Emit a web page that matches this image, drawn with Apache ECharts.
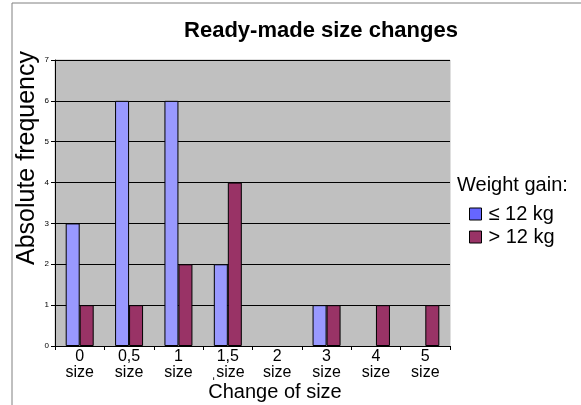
<!DOCTYPE html>
<html>
<head>
<meta charset="utf-8">
<script src="https://cdn.jsdelivr.net/npm/echarts@6/dist/echarts.min.js"></script>
<style>
  html, body { margin: 0; padding: 0; background: #fff; }
  #chart { width: 581px; height: 405px; }
</style>
</head>
<body>
<div id="chart"></div>
<script>
  const categories = ['0\nsize', '0,5\nsize', '1\nsize', '1,5\n\u02ccsize', '2\nsize', '3\nsize', '4\nsize', '5\nsize'];
  const lightGain = [3, 6, 6, 2, 0, 1, 0, 0];
  const heavyGain = [1, 1, 2, 4, 0, 1, 1, 1];
  const seriesNames = ['\u2264 12 kg', '> 12 kg'];

  const font = 'Arial, Liberation Sans, sans-serif';
  // empty categories draw nothing at all
  const hideZero = (arr) => arr.map((v) => (v === 0 ? '-' : v));

  const chart = echarts.init(document.getElementById('chart'));
  chart.setOption({
    animation: false,
    textStyle: { fontFamily: font },
    title: {
      text: 'Ready-made size changes',
      left: 316,
      top: 15,
      textAlign: 'center',
      textStyle: { fontSize: 22, fontWeight: 'bold', color: '#000' },
    },
    graphic: [
      {
        type: 'rect',
        shape: { x: 12, y: 3, width: 600, height: 450 },
        style: { fill: 'none', stroke: '#808080', lineWidth: 1 },
        silent: true,
      },
      {
        type: 'text',
        x: 457,
        y: 185,
        style: { text: 'Weight gain:', fill: '#000', font: '20px ' + font, textVerticalAlign: 'middle' },
      },
      {
        type: 'text',
        x: 27,
        y: 158,
        rotation: Math.PI / 2,
        style: { text: 'Absolute frequency', fill: '#000', font: '25px ' + font, textAlign: 'center', textVerticalAlign: 'middle' },
      },
      {
        type: 'text',
        x: 275,
        y: 392,
        style: { text: 'Change of size', fill: '#000', font: '20px ' + font, textAlign: 'center', textVerticalAlign: 'middle' },
      },
    ],
    legend: {
      orient: 'vertical',
      left: 464,
      top: 199,
      itemWidth: 12,
      itemHeight: 12,
      itemGap: 3,
      icon: 'rect',
      textStyle: { fontSize: 20, color: '#000', padding: [0, 0, 0, 2] },
      data: [
        { name: seriesNames[0], itemStyle: { color: '#6666ff', borderColor: '#000', borderWidth: 1 } },
        { name: seriesNames[1], itemStyle: { color: '#993366', borderColor: '#000', borderWidth: 1 } },
      ],
    },
    grid: { left: 55, right: 131, top: 60, bottom: 59, backgroundColor: '#c0c0c0', show: true, borderColor: '#c0c0c0', borderWidth: 1 },
    xAxis: {
      type: 'category',
      data: categories,
      axisLine: { lineStyle: { color: '#000' } },
      axisTick: { show: true, length: 4, lineStyle: { color: '#000' } },
      axisLabel: { fontSize: 16, color: '#000', lineHeight: 16, margin: 3 },
    },
    yAxis: {
      type: 'value',
      min: 0,
      max: 7,
      interval: 1,
      axisLine: { show: true, lineStyle: { color: '#000' } },
      axisTick: { show: true, length: 4, lineStyle: { color: '#000' } },
      axisLabel: { fontSize: 8, color: '#000', margin: 6 },
      splitLine: { lineStyle: { color: '#000', width: 1 } },
    },
    series: [
      {
        name: seriesNames[0],
        type: 'bar',
        data: hideZero(lightGain),
        barWidth: 14,
        barGap: '0%',
        itemStyle: { color: '#9999ff', borderColor: '#000', borderWidth: 1 },
      },
      {
        name: seriesNames[1],
        type: 'bar',
        data: hideZero(heavyGain),
        barWidth: 14,
        barGap: '0%',
        itemStyle: { color: '#993366', borderColor: '#000', borderWidth: 1 },
      },
    ],
  });
</script>
</body>
</html>
